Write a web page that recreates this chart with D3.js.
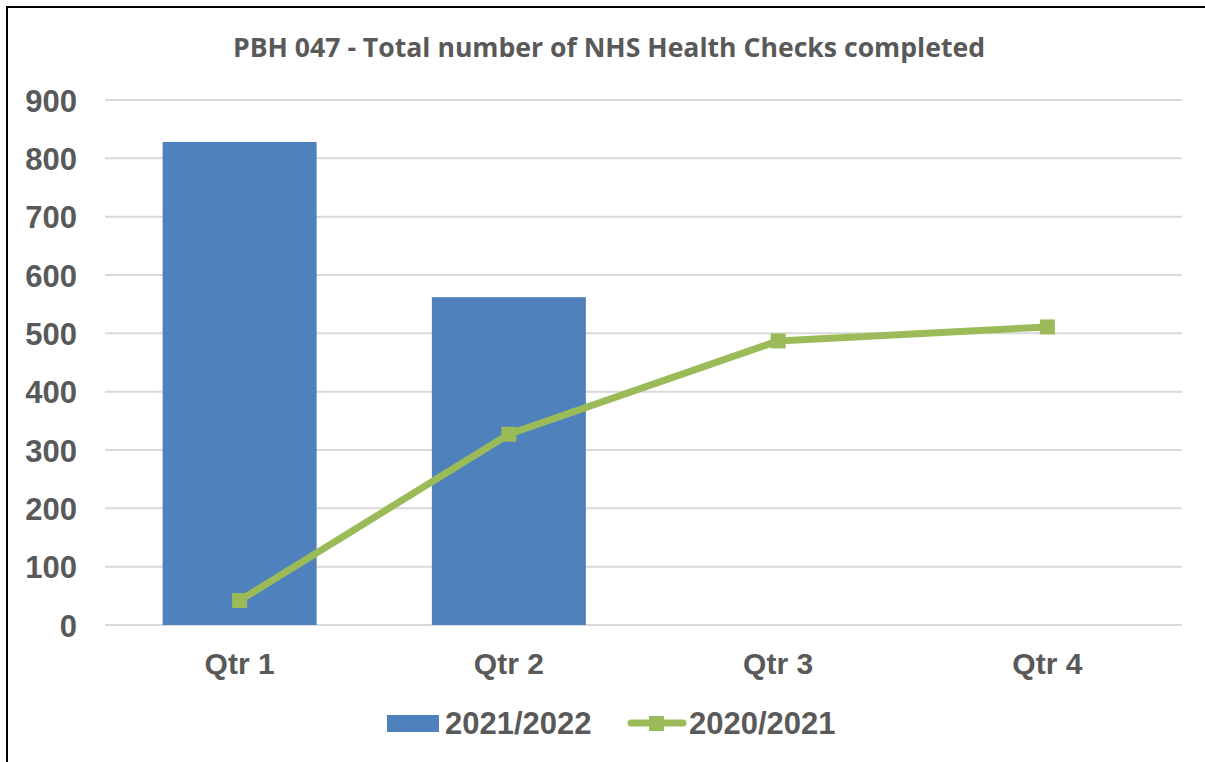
<!DOCTYPE html>
<html>
<head>
<meta charset="utf-8">
<script src="https://cdn.jsdelivr.net/npm/d3@7"></script>
<style>
  html, body { margin: 0; padding: 0; background: #fff; }
  svg { display: block; }
</style>
</head>
<body>
<div id="chart"></div>
<script>
// Chart data
const quarters = ['Qtr 1', 'Qtr 2', 'Qtr 3', 'Qtr 4'];
const values2122 = [828, 562, null, null];   // bars
const values2021 = [42, 327, 487, 511];      // line
const yTicks = [0, 100, 200, 300, 400, 500, 600, 700, 800, 900];
const seriesNames = ['2021/2022', '2020/2021'];
const chartTitle = 'PBH 047 - Total number of NHS Health Checks completed';

const width = 1205, height = 762;
const plot = { left: 105, right: 1182, top: 100, bottom: 625 };
const textColor = '#595959';
const barColor = '#4F81BD';
const lineColor = '#9BBB59';

const svg = d3.select('#chart')
    .append('svg')
    .attr('width', width)
    .attr('height', height);

// Outer frame (only left and top edges are visible in the crop)
svg.append('path')
    .attr('d', `M7,${height} L7,7 L${width},7`)
    .attr('fill', 'none')
    .attr('stroke', '#000')
    .attr('stroke-width', 2);

// Title
svg.append('text')
    .attr('x', 609)
    .attr('y', 57)
    .attr('text-anchor', 'middle')
    .attr('font-family', 'Open Sans, sans-serif')
    .attr('font-weight', 'bold')
    .attr('font-size', 27)
    .attr('fill', textColor)
    .attr('textLength', 752)
    .attr('lengthAdjust', 'spacingAndGlyphs')
    .text(chartTitle);

// Scales
const x = d3.scaleBand()
    .domain(quarters)
    .range([plot.left, plot.right])
    .paddingInner(0.428)
    .paddingOuter(0.214);

const y = d3.scaleLinear()
    .domain([0, 900])
    .range([plot.bottom, plot.top]);

// Gridlines
svg.append('g')
    .attr('class', 'grid')
    .selectAll('line')
    .data(yTicks)
    .join('line')
    .attr('x1', plot.left)
    .attr('x2', plot.right)
    .attr('y1', d => y(d))
    .attr('y2', d => y(d))
    .attr('stroke', '#D9D9D9')
    .attr('stroke-width', 2);

// Y axis labels
const yAxis = svg.append('g')
    .attr('transform', 'translate(77,0)')
    .call(d3.axisLeft(y).tickValues(yTicks).tickSize(0).tickPadding(0));
yAxis.select('.domain').remove();
yAxis.selectAll('text')
    .attr('font-family', 'Liberation Sans, Arial, sans-serif')
    .attr('font-weight', 'bold')
    .attr('font-size', 31)
    .attr('fill', textColor)
    .attr('dy', '0.36em');

// X axis labels
const xAxis = svg.append('g')
    .attr('transform', `translate(0,${plot.bottom})`)
    .call(d3.axisBottom(x).tickSize(0).tickPadding(0));
xAxis.select('.domain').remove();
xAxis.selectAll('text')
    .attr('font-family', 'Liberation Sans, Arial, sans-serif')
    .attr('font-weight', 'bold')
    .attr('font-size', 30)
    .attr('fill', textColor)
    .attr('dy', 0)
    .attr('y', 49);

// Bars
const barData = quarters.map((q, i) => ({ q, v: values2122[i] })).filter(d => d.v != null);
svg.append('g')
    .selectAll('rect')
    .data(barData)
    .join('rect')
    .attr('x', d => x(d.q))
    .attr('width', x.bandwidth())
    .attr('y', d => y(d.v))
    .attr('height', d => y(0) - y(d.v))
    .attr('fill', barColor);

// Line series
const lineData = quarters.map((q, i) => ({ q, v: values2021[i] }));
const cx = d => x(d.q) + x.bandwidth() / 2;
const line = d3.line().x(cx).y(d => y(d.v));

svg.append('path')
    .datum(lineData)
    .attr('d', line)
    .attr('fill', 'none')
    .attr('stroke', lineColor)
    .attr('stroke-width', 7)
    .attr('stroke-linejoin', 'round')
    .attr('stroke-linecap', 'round');

const markerSize = 15;
svg.append('g')
    .selectAll('rect')
    .data(lineData)
    .join('rect')
    .attr('x', d => cx(d) - markerSize / 2)
    .attr('y', d => y(d.v) - markerSize / 2)
    .attr('width', markerSize)
    .attr('height', markerSize)
    .attr('fill', lineColor);

// Legend
const legend = svg.append('g').attr('class', 'legend');
const legendFont = g => g
    .attr('font-family', 'Liberation Sans, Arial, sans-serif')
    .attr('font-weight', 'bold')
    .attr('font-size', 31)
    .attr('fill', textColor);

legend.append('rect')
    .attr('x', 387).attr('y', 715)
    .attr('width', 52).attr('height', 17)
    .attr('fill', barColor);
legend.append('text')
    .attr('x', 445).attr('y', 734)
    .call(legendFont)
    .text(seriesNames[0]);

legend.append('line')
    .attr('x1', 631).attr('x2', 683)
    .attr('y1', 723).attr('y2', 723)
    .attr('stroke', lineColor)
    .attr('stroke-width', 7)
    .attr('stroke-linecap', 'round');
legend.append('rect')
    .attr('x', 649).attr('y', 716)
    .attr('width', markerSize).attr('height', markerSize)
    .attr('fill', lineColor);
legend.append('text')
    .attr('x', 689).attr('y', 734)
    .call(legendFont)
    .text(seriesNames[1]);
</script>
</body>
</html>
